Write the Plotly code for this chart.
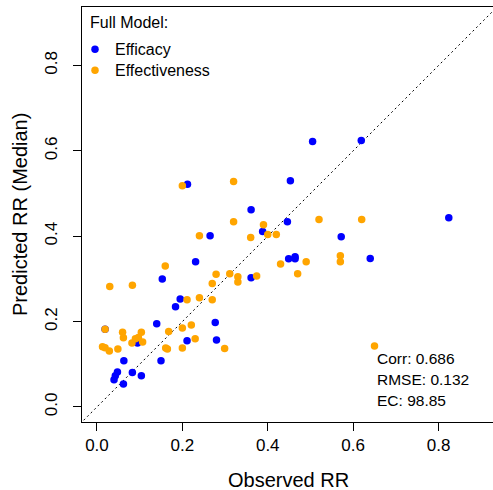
import plotly.graph_objects as go

# Efficacy (blue): observed RR, predicted RR (median)
efficacy_obs = [0.019, 0.095, 0.231, 0.153, 0.195, 0.184, 0.140, 0.277, 0.280, 0.211,
                0.063, 0.150, 0.048, 0.043, 0.040, 0.083, 0.104, 0.062, 0.449, 0.464,
                0.464, 0.361, 0.212, 0.361, 0.388, 0.265, 0.505, 0.619, 0.453, 0.446,
                0.572, 0.640, 0.824]
efficacy_pred = [0.182, 0.150, 0.340, 0.300, 0.253, 0.235, 0.195, 0.198, 0.157, 0.155,
                 0.108, 0.108, 0.082, 0.073, 0.064, 0.081, 0.073, 0.054, 0.347, 0.352,
                 0.347, 0.303, 0.522, 0.462, 0.411, 0.401, 0.622, 0.624, 0.530, 0.434,
                 0.399, 0.348, 0.443]

# Effectiveness (orange)
effect_obs = [0.160, 0.030, 0.083, 0.279, 0.270, 0.211, 0.240, 0.270, 0.019, 0.060,
              0.062, 0.104, 0.082, 0.090, 0.097, 0.107, 0.013, 0.019, 0.029, 0.049,
              0.168, 0.200, 0.221, 0.230, 0.161, 0.165, 0.200, 0.430, 0.490, 0.570,
              0.570, 0.470, 0.311, 0.330, 0.330, 0.374, 0.299, 0.200, 0.320, 0.320,
              0.390, 0.400, 0.420, 0.360, 0.240, 0.520, 0.620, 0.650]
effect_pred = [0.330, 0.282, 0.285, 0.311, 0.289, 0.251, 0.256, 0.251, 0.182, 0.175,
               0.162, 0.175, 0.150, 0.160, 0.163, 0.152, 0.141, 0.139, 0.131, 0.136,
               0.177, 0.185, 0.192, 0.160, 0.138, 0.136, 0.138, 0.335, 0.340, 0.354,
               0.340, 0.312, 0.312, 0.305, 0.293, 0.307, 0.137, 0.518, 0.528, 0.434,
               0.427, 0.404, 0.404, 0.397, 0.401, 0.439, 0.439, 0.143]

tick_vals = [0.0, 0.2, 0.4, 0.6, 0.8]
tick_text = ["0.0", "0.2", "0.4", "0.6", "0.8"]
stats_lines = ["Corr: 0.686", "RMSE: 0.132", "EC: 98.85"]

FONT = "Liberation Sans, Arial, Helvetica, sans-serif"

fig = go.Figure()
fig.add_trace(go.Scatter(x=[-1, 2], y=[-1, 2], mode="lines",
                         line=dict(color="black", width=1, dash="2px,3px"),
                         showlegend=False, hoverinfo="skip"))
fig.add_trace(go.Scatter(x=efficacy_obs, y=efficacy_pred, mode="markers", name="Efficacy",
                         legend="legend",
                         marker=dict(color="#0000FF", size=7.5, line=dict(width=0))))
fig.add_trace(go.Scatter(x=effect_obs, y=effect_pred, mode="markers", name="Effectiveness",
                         legend="legend2",
                         marker=dict(color="#FFA500", size=7.5, line=dict(width=0))))

axis_common = dict(showgrid=False, zeroline=False, showline=True, linecolor="black",
                   linewidth=1, ticks="outside", ticklen=8, tickcolor="black",
                   tickvals=tick_vals, ticktext=tick_text,
                   tickfont=dict(family=FONT, size=17, color="black"))

legend_common = dict(xanchor="left", yanchor="middle", bgcolor="rgba(0,0,0,0)",
                     borderwidth=0, font=dict(family=FONT, size=16, color="black"),
                     itemwidth=30)

fig.update_layout(
    width=493, height=490,
    margin=dict(l=82, r=0, t=7, b=68),
    plot_bgcolor="white", paper_bgcolor="white",
    font=dict(family=FONT, color="black"),
    xaxis=dict(range=[-0.035, 0.9275], mirror=True, **axis_common),
    yaxis=dict(range=[-0.0352, 0.937], tickangle=-90, ticklabelstandoff=9, **axis_common),
    legend=dict(x=(75 - 82) / 411, y=(422 - 49.3) / 415, **legend_common),
    legend2=dict(x=(75 - 82) / 411, y=(422 - 70.3) / 415, **legend_common),
)

fig.add_annotation(text="Full Model:", xref="paper", yref="paper",
                   x=(88 - 82) / 411, y=(422 - 22.7) / 415, xanchor="left", yanchor="middle",
                   showarrow=False, font=dict(family=FONT, size=16, color="black"))

for txt, py in zip(stats_lines, [358.3, 379.3, 400.7]):
    fig.add_annotation(text=txt, xref="paper", yref="paper",
                       x=(375 - 82) / 411, y=(422 - py) / 415, xanchor="left", yanchor="middle",
                       showarrow=False, font=dict(family=FONT, size=15.5, color="black"))

fig.add_annotation(text="Observed RR", xref="paper", yref="paper",
                   x=(288 - 82) / 411, y=(422 - 480) / 415, xanchor="center", yanchor="middle",
                   showarrow=False, font=dict(family=FONT, size=20, color="black"))
fig.add_annotation(text="Predicted RR (Median)", xref="paper", yref="paper",
                   x=(20 - 82) / 411, y=(422 - 215) / 415, xanchor="center", yanchor="middle",
                   textangle=-90, showarrow=False, font=dict(family=FONT, size=20, color="black"))

fig.write_html("out.html", config={"displayModeBar": False},
               post_script="document.body.style.margin='0';document.body.style.overflow='hidden';")
